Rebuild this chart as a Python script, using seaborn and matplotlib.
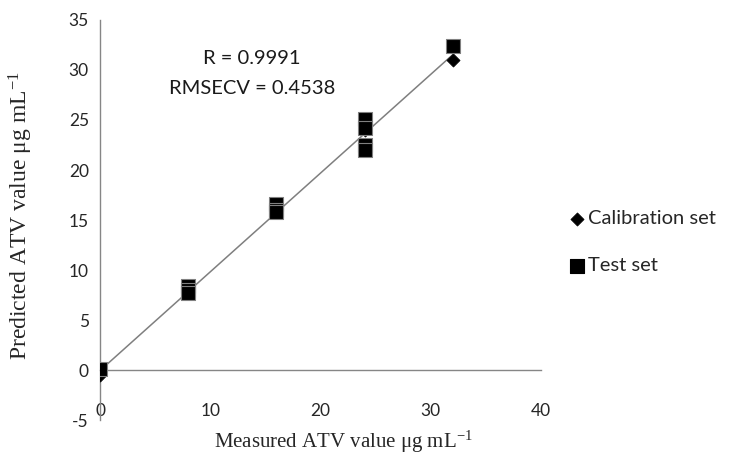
import numpy as np
import pandas as pd
import seaborn as sns
from matplotlib import pyplot as plt

px = 1/plt.rcParams['figure.dpi']

# calibration set (diamonds), mostly hidden under the test squares
cal_x = [0, 8, 16, 24, 32]
cal_y = [-0.5, 8.0, 16.2, 24.0, 31.0]

# test set (squares)
test_x = [0, 8, 8, 8, 16, 16, 16, 24, 24, 24, 24, 32]
test_y = [0.15, 8.4, 8.0, 7.7, 16.6, 16.0, 15.8, 25.1, 24.2, 22.5, 22.0, 32.4]

x_ticks = [0, 10, 20, 30, 40]
y_ticks = [-5, 0, 5, 10, 15, 20, 25, 30, 35]

df_cal = pd.DataFrame({'x': cal_x, 'y': cal_y})
df_test = pd.DataFrame({'x': test_x, 'y': test_y})

sns.set_style("white")
plt.rcParams['font.family'] = ['Lato', 'DejaVu Sans']
plt.rcParams['mathtext.fontset'] = 'custom'
plt.rcParams['mathtext.rm'] = 'Liberation Serif'
plt.rcParams['axes.unicode_minus'] = False

fig = plt.figure(figsize=(734*px, 456*px))
ax = fig.add_axes([100/734, 36/456, 441/734, 400/456])

# regression line fitted on calibration data
slope, icpt = np.polyfit(cal_x, cal_y, 1)
fx = np.array([min(cal_x), max(cal_x)])
sns.lineplot(x=fx, y=slope*fx + icpt, color='#7f7f7f', linewidth=1.1, ax=ax, zorder=2)

sns.scatterplot(data=df_cal, x='x', y='y', marker='D', s=45, color='black',
                edgecolor='black', linewidth=0.5, ax=ax, zorder=3, label='Calibration set')
sns.scatterplot(data=df_test, x='x', y='y', marker='s', s=110, color='black',
                edgecolor='#808080', linewidth=0.8, ax=ax, zorder=4, label='Test set')

ax.set_xlim(0, 40)
ax.set_ylim(-5, 35)
ax.set_xticks(x_ticks)
ax.set_yticks(y_ticks)

for s in ['top', 'right']:
    ax.spines[s].set_visible(False)
ax.spines['bottom'].set_position(('data', 0))
for s in ['left', 'bottom']:
    ax.spines[s].set_color('#868686')
    ax.spines[s].set_linewidth(1)

ax.tick_params(axis='both', which='both', direction='out', length=4, color='#868686',
               labelsize=12.5, labelcolor='#262626')
ax.tick_params(axis='x', pad=20)
ax.tick_params(axis='y', pad=4)

ax.set_xlabel(r'Measured ATV value μg mL$\mathregular{^{-1}}$', fontfamily='Liberation Serif', fontsize=15)
ax.set_ylabel(r'Predicted ATV value μg mL$\mathregular{^{-1}}$', fontfamily='Liberation Serif', fontsize=17)
ax.xaxis.set_label_coords(0.553, -0.022)
ax.yaxis.set_label_coords(-0.148, 0.51)

ax.text(13.8, 31.2, 'R = 0.9991', ha='center', va='center', fontsize=14.5, color='#1a1a1a')
ax.text(13.8, 28.2, 'RMSECV = 0.4538', ha='center', va='center', fontsize=14.5, color='#1a1a1a')

leg = ax.legend(loc='upper left', bbox_to_anchor=(559/734, 1 - 202/456),
                bbox_transform=fig.transFigure, frameon=False, fontsize=14.5,
                labelspacing=1.5, handletextpad=0.05, handlelength=1.0, borderaxespad=0)
for h in leg.legend_handles:
    h.set_edgecolor('black')

plt.savefig('out.png')
